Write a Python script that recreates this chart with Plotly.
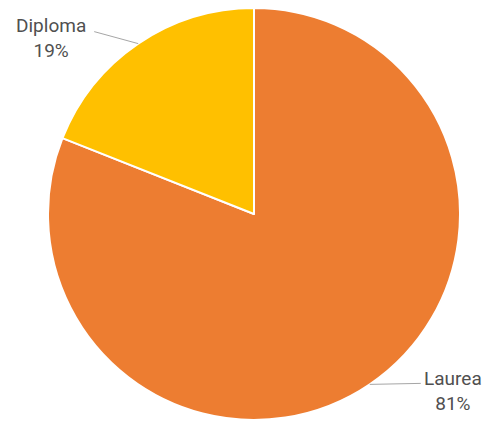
import numpy as np
import plotly.graph_objects as go

# Data
categories = ["Laurea", "Diploma"]
values = [81, 19]
colors = ["#ED7D31", "#FFC000"]

# Layout geometry (pixels)
W, H = 488, 422
cx, cy, R = 254, 214, 206

fig = go.Figure(go.Pie(
    labels=categories, values=values, sort=False, direction="clockwise",
    rotation=0, textinfo="none", hoverinfo="label+percent",
    marker=dict(colors=colors, line=dict(color="white", width=2)),
    domain=dict(x=[(cx - R) / W, (cx + R) / W],
                y=[(H - cy - R) / H, (H - cy + R) / H]),
    showlegend=False,
))

def px2paper(x, y):
    return x / W, (H - y) / H

# label placement offsets relative to slice mid-point (pixels)
line_end_offset = {"Laurea": (51, -1), "Diploma": (-44, -12)}
text_offset = {"Laurea": (83, 7), "Diploma": (-87, -6)}

total = sum(values)
cum = 0
shapes, annotations = [], []
for cat, v in zip(categories, values):
    mid = (cum + v / 2) / total * 2 * np.pi
    cum += v
    px = cx + R * np.sin(mid)
    py = cy - R * np.cos(mid)
    ox, oy = line_end_offset[cat]
    x0, y0 = px2paper(px, py)
    x1, y1 = px2paper(px + ox, py + oy)
    shapes.append(dict(type="line", xref="paper", yref="paper",
                       x0=x0, y0=y0, x1=x1, y1=y1,
                       line=dict(color="#A6A6A6", width=1)))
    tx, ty = text_offset[cat]
    ax_, ay_ = px2paper(px + tx, py + ty)
    pct = round(v / total * 100)
    annotations.append(dict(x=ax_, y=ay_, xref="paper", yref="paper",
                            text=f"{cat}<br>{pct}%", showarrow=False,
                            xanchor="center", yanchor="middle",
                            font=dict(family="Roboto", size=19, color="#505050")))

fig.update_layout(
    width=W, height=H, margin=dict(l=0, r=0, t=0, b=0),
    paper_bgcolor="white", plot_bgcolor="white",
    shapes=shapes, annotations=annotations,
)

fig.write_html("out.html", config={"displayModeBar": False},
               post_script="document.body.style.margin='0';")
